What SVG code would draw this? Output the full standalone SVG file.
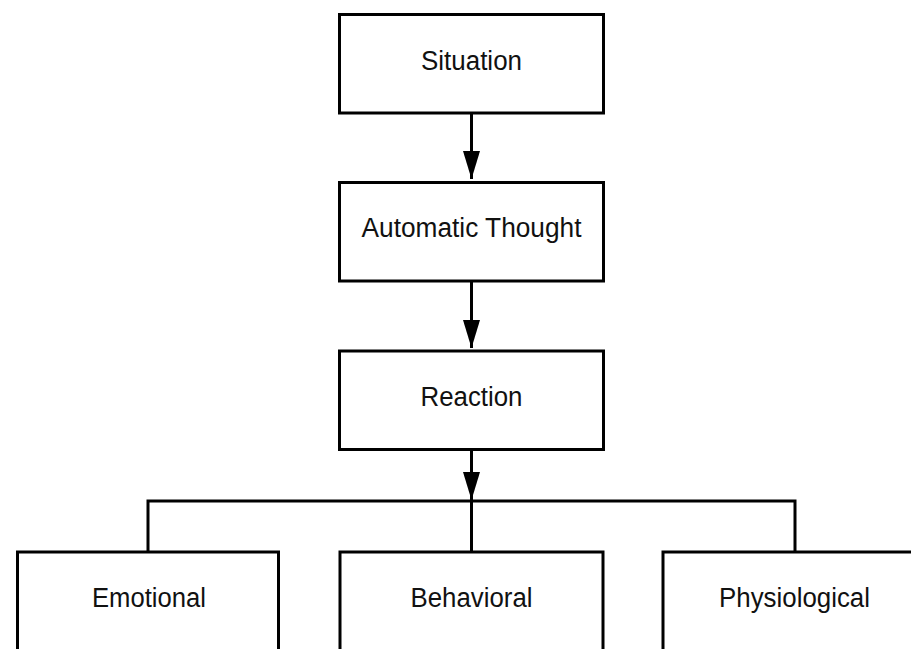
<svg xmlns="http://www.w3.org/2000/svg" width="911" height="649" viewBox="0 0 911 649">
  <style>
    .box { fill: #ffffff; stroke: #000000; stroke-width: 3; }
    .lbl { font-family: "Liberation Sans", Arial, sans-serif; font-size: 27px; fill: #111111; text-anchor: middle; }
    .edge { fill: none; stroke: #000000; stroke-width: 3; }
  </style>
  <defs>
    <marker id="arrow" markerUnits="userSpaceOnUse" markerWidth="28" markerHeight="17" refX="28" refY="8.5" orient="auto" viewBox="0 0 28 17">
      <path d="M0,0 L28,8.5 L0,17 Z" fill="#000000"/>
    </marker>
  </defs>
  <rect width="911" height="649" fill="#ffffff"/>
  <g id="connectors">
    <line class="edge" x1="471.5" y1="114" x2="471.5" y2="179" marker-end="url(#arrow)"/>
    <line class="edge" x1="471.5" y1="282" x2="471.5" y2="348" marker-end="url(#arrow)"/>
    <line class="edge" x1="471.5" y1="451" x2="471.5" y2="500" marker-end="url(#arrow)"/>
    <path class="edge" d="M148,551 V501 H795 V551 M471.5,501 V551"/>
  </g>
  <g id="situation">
    <rect class="box" x="339.5" y="14.5" width="264" height="98.5"/>
    <text class="lbl" x="471.5" y="70" textLength="101" lengthAdjust="spacingAndGlyphs">Situation</text>
  </g>
  <g id="automatic-thought">
    <rect class="box" x="339.5" y="182.5" width="264" height="98.5"/>
    <text class="lbl" x="471.5" y="237" textLength="220" lengthAdjust="spacingAndGlyphs">Automatic Thought</text>
  </g>
  <g id="reaction">
    <rect class="box" x="339.5" y="351" width="264" height="98.5"/>
    <text class="lbl" x="471.5" y="406" textLength="102" lengthAdjust="spacingAndGlyphs">Reaction</text>
  </g>
  <g id="emotional">
    <rect class="box" x="17.5" y="552" width="261" height="110"/>
    <text class="lbl" x="149" y="607" textLength="114" lengthAdjust="spacingAndGlyphs">Emotional</text>
  </g>
  <g id="behavioral">
    <rect class="box" x="340" y="552" width="263" height="110"/>
    <text class="lbl" x="471.5" y="607" textLength="122" lengthAdjust="spacingAndGlyphs">Behavioral</text>
  </g>
  <g id="physiological">
    <rect class="box" x="663" y="552" width="264" height="110"/>
    <text class="lbl" x="794.5" y="607" textLength="151" lengthAdjust="spacingAndGlyphs">Physiological</text>
  </g>
</svg>
